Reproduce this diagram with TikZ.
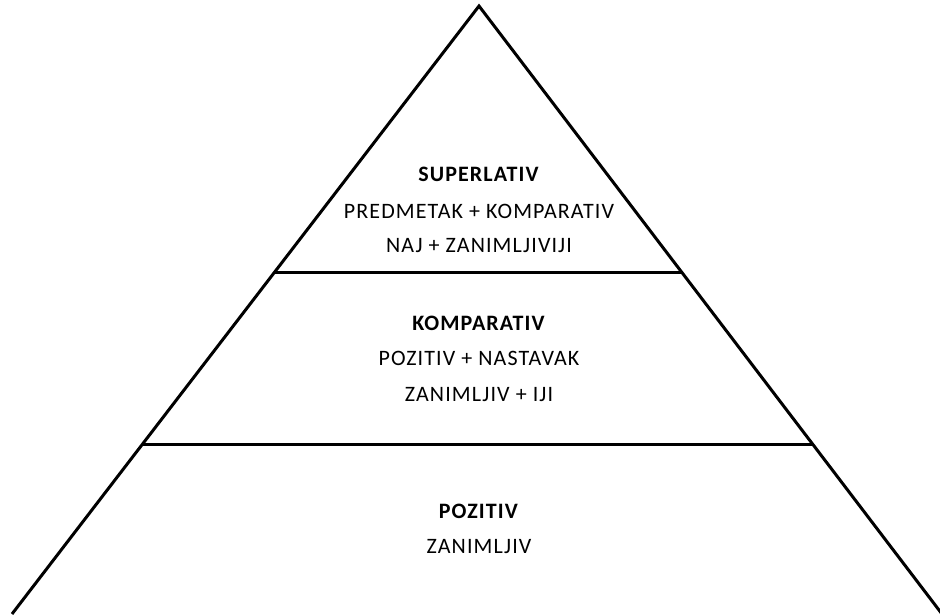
\documentclass[tikz,border=0pt]{standalone}
\usepackage{fontspec}
\setmainfont[LetterSpace=5]{Carlito}
\begin{document}
\begin{tikzpicture}[x=1pt,y=-1pt,
  edge/.style={line width=3pt,black},
  lbl/.style={font=\fontsize{22}{34}\selectfont,align=center,inner sep=0pt}]
\useasboundingbox (0,0) rectangle (940,614);
\coordinate (apex) at (479,6);
\coordinate (bl) at (12,614);
\coordinate (br) at (942,614);
\coordinate (l1) at (275,272);
\coordinate (r1) at (683,272);
\coordinate (l2) at (143,444);
\coordinate (r2) at (814,444);
\begin{scope}
\clip (0,0) rectangle (940,614);
\draw[edge,line join=miter] (bl) -- (apex) -- (br);
\end{scope}
\draw[edge] (l1) -- (r1);
\draw[edge] (l2) -- (r2);
\node[lbl,anchor=base] (s1) at (479,181) {\textbf{SUPERLATIV}};
\node[lbl,anchor=base] (s2) at (479,218) {PREDMETAK + KOMPARATIV};
\node[lbl,anchor=base] (s3) at (479,252) {NAJ + ZANIMLJIVIJI};
\node[lbl,anchor=base] (k1) at (479,330) {\textbf{KOMPARATIV}};
\node[lbl,anchor=base] (k2) at (479,365) {POZITIV + NASTAVAK};
\node[lbl,anchor=base] (k3) at (479,401) {ZANIMLJIV + IJI};
\node[lbl,anchor=base] (p1) at (479,518) {\textbf{POZITIV}};
\node[lbl,anchor=base] (p2) at (479,553) {ZANIMLJIV};
\end{tikzpicture}
\end{document}
